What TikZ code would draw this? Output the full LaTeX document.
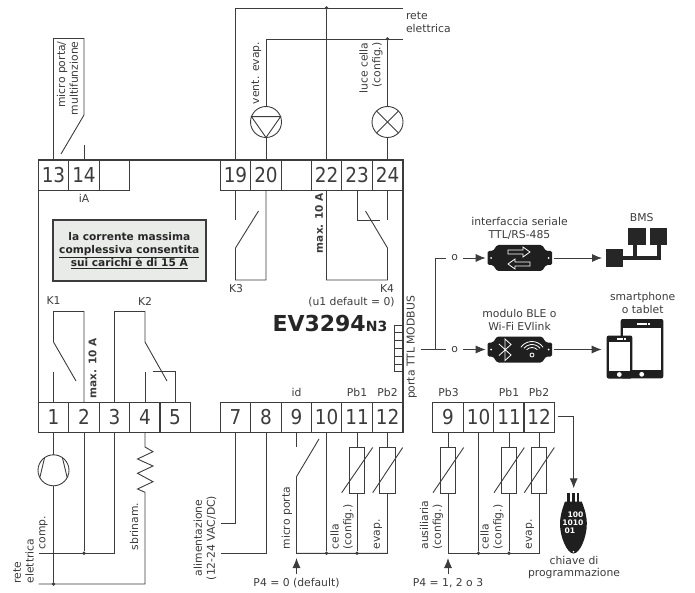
\documentclass[tikz,border=0pt]{standalone}
\usepackage{fontspec}
\setmainfont{DejaVu Sans}
\newfontfamily\condfont{DejaVu Sans Condensed}
\usetikzlibrary{arrows.meta}
\definecolor{inkgray}{HTML}{3C3C3C}
\definecolor{notegray}{HTML}{E9EBE9}
\tikzstyle{every picture}+=[remember picture]
\tikzstyle{wire}=[line width=0.9pt,draw=inkgray]
\tikzstyle{termbox}=[draw=inkgray,line width=0.8pt,inner sep=0pt,outer sep=0pt,minimum width=30.5pt,minimum height=30pt,text=inkgray,font=\condfont\fontsize{20.5}{20.5}\selectfont]
\tikzstyle{txt}=[inner sep=0pt,outer sep=0pt,text=inkgray,font=\fontsize{10.8}{12.8}\selectfont]
\tikzstyle{boldtxt}=[txt,font=\bfseries\fontsize{10.5}{12.8}\selectfont]
\tikzstyle{dot}=[circle,fill=inkgray,inner sep=0pt,minimum size=3.8pt]
\tikzstyle{load}=[circle,draw=inkgray,line width=0.9pt,inner sep=0pt,outer sep=0pt,minimum size=31pt]
\tikzstyle{probe}=[draw=inkgray,line width=0.9pt,inner sep=0pt,outer sep=0pt,minimum width=15.5pt,minimum height=46pt]
\tikzstyle{arr}=[line width=0.9pt,draw=inkgray,-{Latex[length=10pt,width=8pt]}]
\tikzstyle{devbox}=[inner sep=0pt,outer sep=0pt,minimum width=68pt,minimum height=27pt]
\tikzstyle{bmsbox}=[fill=black!85,inner sep=0pt,outer sep=0pt,minimum size=17.3pt]
\tikzstyle{halo}=[draw=white,line width=0.8pt]

\begin{document}
\begin{tikzpicture}[x=1pt,y=-1pt]
	\useasboundingbox (0,0) rectangle (695,593);
	% morsetti
	\node[termbox] (t13) at (53.5,175) {13};
	\node[termbox] (t14) at (84,175) {14};
	\node[termbox] (tx1) at (114.5,175) {};
	\node[termbox] (t19) at (235.5,175) {19};
	\node[termbox] (t20) at (266,175) {20};
	\node[termbox] (tx2) at (296.5,175) {};
	\node[termbox] (t22) at (326.5,175) {22};
	\node[termbox] (t23) at (357,175) {23};
	\node[termbox] (t24) at (387.5,175) {24};
	\node[termbox] (t1) at (53.5,417) {1};
	\node[termbox] (t2) at (84,417) {2};
	\node[termbox] (t3) at (114.5,417) {3};
	\node[termbox] (t4) at (145,417) {4};
	\node[termbox] (t5) at (175,417) {5};
	\node[termbox] (t7) at (235.5,417) {7};
	\node[termbox] (t8) at (266,417) {8};
	\node[termbox] (t9) at (296.5,417) {9};
	\node[termbox] (t10) at (326.5,417) {10};
	\node[termbox] (t11) at (357,417) {11};
	\node[termbox] (t12) at (387.5,417) {12};
	\node[termbox] (s9) at (448,417) {9};
	\node[termbox] (s10) at (478.5,417) {10};
	\node[termbox] (s11) at (509,417) {11};
	\node[termbox] (s12) at (539,417) {12};
	\node[draw=inkgray,line width=1.8pt,inner sep=0pt,outer sep=0pt,minimum width=364.5pt,minimum height=272.5pt] (board) at (220.75,296.25) {};
	\node[draw=inkgray,fill=notegray,line width=1.5pt,minimum width=153pt,minimum height=61pt,inner sep=0pt,align=center,text=black!85,font=\bfseries\fontsize{10.6}{13}\selectfont] (note) at (129.3,250.5) {la corrente massima\\\underline{complessiva consentita}\\\underline{sui carichi è di 15 A}};
	\node[txt,text=black!85,anchor=base west,font=\bfseries\fontsize{22}{22}\selectfont] (model) at (272.5,331) {EV3294{\fontsize{14}{14}\selectfont N3}};
	% ingresso 13-14
	\coordinate (m1) at (84,38.5);
	\coordinate (m2) at (84,115);
	\coordinate (m3) at (61,154);
	\coordinate (m4) at (84,145);
	\draw[wire] (t13.north) |- (m1) -- (m2) -- (m3);
	\draw[wire] (t14.north) -- (m4);
	\node[txt,rotate=90,anchor=east,align=right] (lmicro) at (67.5,41.5) {micro porta/\\multifunzione};
	\node[txt] (lia) at (84,198) {iA};
	% rete alta
	\coordinate (r1) at (403,8);
	\coordinate (r2) at (403,39);
	\node[dot] (d22) at (326.5,8) {};
	\node[dot] (d24) at (387.5,39) {};
	\node[load] (mot) at (266,122) {};
	\node[load] (lamp) at (387.5,122) {};
	\draw[wire] (t19.north) |- (r1);
	\draw[wire] (t22.north) -- (d22);
	\draw[wire] (t20.north) -- (mot.south);
	\draw[wire] (mot.north) |- (r2);
	\draw[wire] (t24.north) -- (lamp.south);
	\draw[wire] (lamp.north) -- (d24);
	\draw[wire] (mot.160) -- (mot.20) -- (mot.270) -- cycle;
	\draw[wire] (lamp.45) -- (lamp.225);
	\draw[wire] (lamp.135) -- (lamp.315);
	\node[txt,anchor=west,align=left] (lrete) at (406,22.5) {rete\\elettrica};
	\node[txt,rotate=90,anchor=east] (lvent) at (256.5,42) {vent. evap.};
	\node[txt,rotate=90,anchor=east,align=right] (lluce) at (371,42.5) {luce cella\\(config.)};
	% K3 K4
	\coordinate (k3a) at (235.5,220);
	\coordinate (k3b) at (235.5,248);
	\coordinate (k3c) at (258.5,211);
	\coordinate (k3d) at (235.5,280);
	\draw[wire] (t19.south) -- (k3a);
	\draw[wire] (t20.south) |- (k3d) -- (k3b) -- (k3c);
	\coordinate (k4a) at (387.5,220);
	\coordinate (k4b) at (387.5,248);
	\coordinate (k4c) at (365.5,211);
	\coordinate (k4d) at (387.5,280);
	\coordinate (k4e) at (380,220);
	\draw[wire] (t24.south) -- (k4a);
	\draw[wire] (t22.south) |- (k4d) -- (k4b) -- (k4c);
	\draw[wire] (t23.south) |- (k4e);
	\node[txt] (lk3) at (236,288.5) {K3};
	\node[txt] (lk4) at (387,288.5) {K4};
	\node[boldtxt,rotate=90] (lmax1) at (319,223) {max. 10 A};
	\node[txt] (lu1) at (351.5,302) {(u1 default = 0)};
	% K1 K2
	\coordinate (k1a) at (53.5,371.5);
	\coordinate (k1b) at (53.5,342);
	\coordinate (k1c) at (76,381);
	\coordinate (k1d) at (53.5,311.5);
	\draw[wire] (t1.north) -- (k1a);
	\draw[wire] (t2.north) |- (k1d) -- (k1b) -- (k1c);
	\coordinate (k2a) at (145,371.5);
	\coordinate (k2b) at (145,342);
	\coordinate (k2c) at (167,381);
	\coordinate (k2d) at (145,311.5);
	\coordinate (k2e) at (152.5,371.5);
	\draw[wire] (t4.north) -- (k2a);
	\draw[wire] (t3.north) |- (k2d) -- (k2b) -- (k2c);
	\draw[wire] (t5.north) |- (k2e);
	\node[txt] (lk1) at (53.5,301) {K1};
	\node[txt] (lk2) at (145,301) {K2};
	\node[boldtxt,rotate=90] (lmax2) at (92.5,368) {max. 10 A};
	% carichi in basso
	\node[load] (comp) at (53.5,470.3) {};
	\coordinate (b1) at (38.5,553.3);
	\coordinate (b2) at (38.5,584);
	\node[dot] (d2) at (84,553.3) {};
	\node[dot] (d1) at (53.5,584) {};
	\draw[wire] (t1.south) -- (comp.north);
	\draw[wire] (comp.125) -- (comp.208);
	\draw[wire] (comp.55) -- (comp.332);
	\draw[wire] (comp.south) -- (d1);
	\draw[wire] (t2.south) -- (d2);
	\draw[wire] (t3.south) |- (b1);
	\coordinate (rz) at (145,492.3);
	\draw[wire] (t4.south) -- (145,447) -- (153,451.7) -- (137.5,459) -- (153,466) -- (137.5,473.3) -- (153,481.7) -- (137.5,489) -- (rz) |- (b2);
	\node[txt,rotate=90,anchor=west] (lcomp) at (43.5,549.5) {comp.};
	\node[txt,rotate=90,anchor=west,align=left] (lrete2) at (23.5,583.5) {rete\\elettrica};
	\node[txt,rotate=90,anchor=west] (lsbr) at (134,550) {sbrinam.};
	\node[txt,rotate=90,align=center] (lalim) at (205,538) {alimentazione\\(12-24 VAC/DC)};
	% alimentazione e ingressi
	\coordinate (a7) at (220.5,523.3);
	\coordinate (a8) at (220.5,553.3);
	\draw[wire] (t7.south) |- (a7);
	\draw[wire] (t8.south) |- (a8);
	\coordinate (i9) at (296.5,447.3);
	\coordinate (i9b) at (296.5,476.7);
	\coordinate (i9c) at (319,439);
	\coordinate (i9d) at (296.5,553.3);
	\coordinate (i9e) at (296.5,574);
	\node[dot] (d10) at (326.5,553.3) {};
	\node[dot] (d11) at (357,553.3) {};
	\coordinate (d12) at (387.5,553.3);
	\node[probe] (p11) at (357,470.3) {};
	\node[probe] (p12) at (387.5,470.3) {};
	\draw[wire] (t9.south) -- (i9);
	\draw[wire] (i9c) -- (i9b) -- (i9d) -- (d12) -- (p12.south);
	\draw[wire] (t10.south) -- (d10);
	\draw[wire] (t11.south) -- (p11.north);
	\draw[wire] (p11.south) -- (d11);
	\draw[wire] (t12.south) -- (p12.north);
	\draw[wire] (341.7,492.7) -- (372.7,447.5);
	\draw[wire] (372.7,492.7) -- (402.7,447.5);
	\draw[arr] (i9e) -- (296.5,558);
	\node[txt] (lp40) at (296.5,583) {P4 = 0 (default)};
	\node[txt] (lid) at (296.5,392) {id};
	\node[txt] (lpb1) at (357,392) {Pb1};
	\node[txt] (lpb2) at (387.5,392) {Pb2};
	\node[txt,rotate=90,anchor=west] (lmp) at (287,549.5) {micro porta};
	\node[txt,rotate=90,anchor=west,align=left] (lcella) at (342,549.5) {cella\\(config.)};
	\node[txt,rotate=90,anchor=west] (levap) at (378,549.5) {evap.};
	% secondo blocco
	\coordinate (c9) at (448,553.3);
	\coordinate (c9e) at (448,574);
	\coordinate (c12) at (539,553.3);
	\node[dot] (e10) at (478.5,553.3) {};
	\node[dot] (e11) at (509,553.3) {};
	\node[probe] (q9) at (448,470.3) {};
	\node[probe] (q11) at (509,470.3) {};
	\node[probe] (q12) at (539,470.3) {};
	\draw[wire] (s9.south) -- (q9.north);
	\draw[wire] (s11.south) -- (q11.north);
	\draw[wire] (s12.south) -- (q12.north);
	\draw[wire] (s10.south) -- (e10);
	\draw[wire] (q11.south) -- (e11);
	\draw[wire] (q9.south) -- (c9) -- (c12) -- (q12.south);
	\draw[wire] (433,492.7) -- (463.7,447.5);
	\draw[wire] (494,492.7) -- (524.3,447.5);
	\draw[wire] (524.3,492.7) -- (554.3,447.5);
	\draw[arr] (c9e) -- (448,558);
	\node[txt] (lp41) at (448,583) {P4 = 1, 2 o 3};
	\node[txt] (lpb3) at (448.5,392) {Pb3};
	\node[txt] (lpb1b) at (509,392) {Pb1};
	\node[txt] (lpb2b) at (539,392) {Pb2};
	\node[txt,rotate=90,anchor=west,align=left] (laus) at (431.5,549.5) {ausiliaria\\(config.)};
	\node[txt,rotate=90,anchor=west,align=left] (lcella2) at (492,549.5) {cella\\(config.)};
	\node[txt,rotate=90,anchor=west] (levap2) at (530,549.5) {evap.};
	% chiave
	\coordinate (kfrom) at (558.3,416.7);
	\coordinate (kelbow) at (573.7,416.7);
	\node[inner sep=0pt,outer sep=0pt,minimum width=27pt,minimum height=60pt] (keyb) at (573.3,523) {};
	\draw[arr] (kfrom) -- (kelbow) -- (573.7,488.3);
	\fill[black!88] (567.3,493.3) rectangle (569.6,502);
	\fill[black!88] (572,493.3) rectangle (574.6,502);
	\fill[black!88] (577,493.3) rectangle (579.3,502);
	\fill[black!88] (565,501.5) -- (581.7,501.5) .. controls (585,510) and (586.8,516) .. (586.8,524) .. controls (586.8,537) and (580,553.5) .. (573.5,553.5) .. controls (567,553.5) and (560,537) .. (560,524) .. controls (560,516) and (562,510) .. (565,501.5) -- cycle;
	\fill[white] (573.5,551.8) circle (0.9pt);
	\node[txt,text=white,anchor=east,font=\bfseries\fontsize{7.6}{8}\selectfont] (kb1) at (583.5,515) {100};
	\node[txt,text=white,anchor=east,font=\bfseries\fontsize{7.6}{8}\selectfont] (kb2) at (583.5,523) {1010};
	\node[txt,text=white,anchor=west,font=\bfseries\fontsize{7.6}{8}\selectfont] (kb3) at (564.5,531) {01};
	\node[txt,align=center] (lkey) at (574,567.5) {chiave di\\programmazione};
	% porta TTL
	\node[inner sep=0pt,outer sep=0pt,minimum width=9pt,minimum height=46.7pt,draw=inkgray,line width=0.7pt] (comb) at (398.5,348.3) {};
	\draw[line width=0.7pt,draw=inkgray] (394,332.8) -- (403,332.8);
	\draw[line width=0.7pt,draw=inkgray] (394,340.6) -- (403,340.6);
	\draw[line width=0.7pt,draw=inkgray] (394,348.4) -- (403,348.4);
	\draw[line width=0.7pt,draw=inkgray] (394,356.2) -- (403,356.2);
	\draw[line width=0.7pt,draw=inkgray] (394,364) -- (403,364);
	\node[txt,rotate=90] (lttl) at (411.7,347.5) {porta TTL MODBUS};
	\coordinate (tt) at (420.7,349.5);
	\coordinate (jn) at (435,349.5);
	\node[txt,minimum width=17pt] (o1) at (454.7,258) {o};
	\node[txt,minimum width=17pt] (o2) at (454.7,349.5) {o};
	\draw[wire] (tt) -- (o2.west);
	\draw[wire] (o1.west) -| (jn);
	\node[devbox] (dev1) at (519.7,258) {};
	\node[devbox] (dev2) at (519.7,349.5) {};
	\draw[arr] (o1.east) -- (dev1.west);
	\draw[arr] (o2.east) -- (dev2.west);
	% interfaccia
	\fill[black!88,rounded corners=1.5pt] (497,245) -- (542,245) -- (546,251) -- (552,251) -- (552,265) -- (546,265) -- (542,271) -- (497,271) -- (493,265) -- (487.5,265) -- (487.5,251) -- (493,251) -- cycle;
	\fill[white] (491,258) circle (1pt);
	\fill[white] (548.5,258) circle (1pt);
	\draw[halo] (508,250) -- (523,250) -- (523,247) -- (530,252) -- (523,257) -- (523,254) -- (508,254) -- cycle;
	\draw[halo] (530,262) -- (515,262) -- (515,259) -- (508,264) -- (515,269) -- (515,266) -- (530,266) -- cycle;
	\node[txt,align=center] (lint) at (519.5,228.7) {interfaccia seriale\\TTL/RS-485};
	% modulo BLE
	\fill[black!88,rounded corners=1.5pt] (497,336.5) -- (542,336.5) -- (546,342.5) -- (552,342.5) -- (552,356.5) -- (546,356.5) -- (542,362.5) -- (497,362.5) -- (493,356.5) -- (487.5,356.5) -- (487.5,342.5) -- (493,342.5) -- cycle;
	\fill[white] (491,349.5) circle (1pt);
	\fill[white] (548.5,349.5) circle (1pt);
	\draw[halo] (499,344) -- (511,355) -- (505,360.5) -- (505,339) -- (511,344.5) -- (499,355.5);
	\coordinate (wifi) at (532,355);
	\draw[halo] (wifi) circle (2pt);
	\draw[halo] ([shift={(45:7.5pt)}]wifi) arc [start angle=45,end angle=135,radius=7.5pt];
	\draw[halo] ([shift={(40:10.5pt)}]wifi) arc [start angle=40,end angle=140,radius=10.5pt];
	\draw[halo] ([shift={(35:13.5pt)}]wifi) arc [start angle=35,end angle=145,radius=13.5pt];
	\node[txt,align=center] (lble) at (519.5,319.5) {modulo BLE o\\Wi-Fi EVlink};
	% BMS
	\node[bmsbox] (bms1) at (614.7,258) {};
	\node[bmsbox] (bms2) at (637,236.7) {};
	\node[bmsbox] (bms3) at (658.7,236.7) {};
	\draw[black!85,line width=3.6pt] (bms1.center) -| (bms3.center);
	\draw[black!85,line width=3.6pt] ([xshift=-2pt]bms2.center) -- ([xshift=-2pt]bms2.center |- bms1.center);
	\draw[arr,shorten >=4pt] (dev1.east) -- (bms1.west);
	\node[txt] (lbms) at (641.7,218) {BMS};
	% smartphone
	\fill[black!88,rounded corners=2pt] (620.7,319) rectangle (663.3,378.3);
	\fill[white] (623.3,327.7) rectangle (661,370);
	\fill[white] (637,323.2) rectangle (647,324.8);
	\fill[white] (648,323.2) rectangle (650,324.8);
	\fill[white] (641.7,374.3) circle (2.4pt);
	\node[fill=black!88,rounded corners=2pt,inner sep=0pt,outer sep=0pt,minimum width=25.6pt,minimum height=43pt] (phone) at (619.5,357) {};
	\draw[white,line width=0.8pt] (633,336) -- (633,370);
	\fill[white] (609,342.3) rectangle (630,370.7);
	\fill[white] (616.7,338.2) rectangle (623,339.8);
	\fill[white] (624,338.2) rectangle (625.8,339.8);
	\fill[white] (619.3,374.5) circle (2.4pt);
	\coordinate (phin) at (601.7,349.5);
	\draw[arr] (dev2.east) -- (phin);
	\node[txt,align=center] (lsmart) at (642.7,303) {smartphone\\o tablet};
\end{tikzpicture}
\end{document}
